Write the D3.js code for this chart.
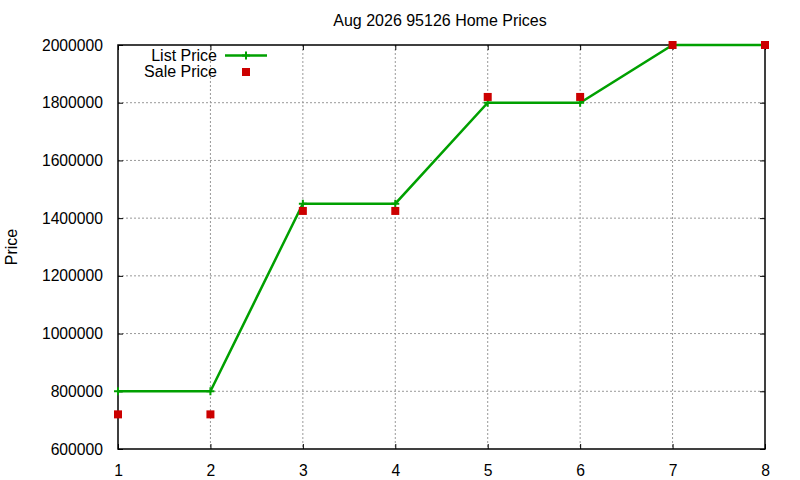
<!DOCTYPE html>
<html>
<head>
<meta charset="utf-8">
<style>
    body { margin: 0; background: #fff; }
    svg text { font-family: "Liberation Sans", Arial, sans-serif; fill: #000; }
</style>
</head>
<body>
<svg id="chart" width="800" height="480"></svg>

<script src="https://d3js.org/d3.v7.min.js"></script>
<script>
    // podaci sa slike
    const houses = [1, 2, 3, 4, 5, 6, 7, 8];
    const listPrice = [800000, 800000, 1450000, 1450000, 1800000, 1800000, 2000000, 2000000];
    const salePrice = [720000, 720000, 1425000, 1425000, 1820000, 1820000, 2000000, 2000000];
    const yTicks = [600000, 800000, 1000000, 1200000, 1400000, 1600000, 1800000, 2000000];
    const xTicks = [1, 2, 3, 4, 5, 6, 7, 8];
    const titleText = "Aug 2026 95126 Home Prices";

    const svg = d3.select("#chart");
    const margin = { top: 45, right: 35, bottom: 31, left: 118 },
          width = 800 - margin.left - margin.right,
          height = 480 - margin.top - margin.bottom;

    const chart = svg.append("g")
                     .attr("transform", `translate(${margin.left},${margin.top})`);

    const x = d3.scaleLinear().domain([1, 8]).range([0, width]);
    const y = d3.scaleLinear().domain([600000, 2000000]).range([height, 0]);

    // mreza (tockasta)
    chart.append("g").selectAll("line")
         .data(xTicks.filter(d => d > 1 && d < 8))
         .enter().append("line")
         .attr("x1", d => x(d)).attr("x2", d => x(d))
         .attr("y1", 0).attr("y2", height)
         .attr("stroke", "#999").attr("stroke-dasharray", "2,2");

    chart.append("g").selectAll("line")
         .data(yTicks.filter(d => d > 600000 && d < 2000000))
         .enter().append("line")
         .attr("x1", 0).attr("x2", width)
         .attr("y1", d => y(d)).attr("y2", d => y(d))
         .attr("stroke", "#999").attr("stroke-dasharray", "2,2");

    // osi s crticama prema unutra
    const styleAxis = g => {
        g.select(".domain").remove();
        g.selectAll("line").attr("stroke", "#000");
        g.selectAll("text").style("font-size", "15.7px");
    };

    chart.append("g")
         .attr("transform", `translate(0,${height})`)
         .call(d3.axisBottom(x).tickValues(xTicks).tickSize(-5).tickPadding(16).tickFormat(d3.format("d")))
         .call(styleAxis);

    chart.append("g")
         .call(d3.axisTop(x).tickValues(xTicks).tickSize(-5).tickFormat(""))
         .call(styleAxis);

    chart.append("g")
         .call(d3.axisLeft(y).tickValues(yTicks).tickSize(-5).tickPadding(15).tickFormat(d3.format("d")))
         .call(styleAxis);

    chart.append("g")
         .attr("transform", `translate(${width},0)`)
         .call(d3.axisRight(y).tickValues(yTicks).tickSize(-5).tickFormat(""))
         .call(styleAxis);

    // okvir
    chart.append("rect")
         .attr("width", width).attr("height", height)
         .attr("fill", "none").attr("stroke", "#000").attr("stroke-width", 1.5);

    // List Price linija
    const listData = houses.map((h, i) => ({ h: h, v: listPrice[i] }));
    const line = d3.line().x(d => x(d.h)).y(d => y(d.v));

    chart.append("path")
         .datum(listData)
         .attr("d", line)
         .attr("fill", "none")
         .attr("stroke", "#00a000")
         .attr("stroke-width", 2.5);

    chart.selectAll(".plus")
         .data(listData)
         .enter().append("path")
         .attr("class", "plus")
         .attr("d", d => `M${x(d.h) - 4},${y(d.v)}h8M${x(d.h)},${y(d.v) - 4}v8`)
         .attr("stroke", "#00a000").attr("stroke-width", 2);

    // Sale Price kvadratici
    const saleData = houses.map((h, i) => ({ h: h, v: salePrice[i] }));
    chart.selectAll(".sale")
         .data(saleData)
         .enter().append("rect")
         .attr("class", "sale")
         .attr("x", d => x(d.h) - 4).attr("y", d => y(d.v) - 4)
         .attr("width", 8).attr("height", 8)
         .attr("fill", "#cc0000");

    // legenda
    const legend = svg.append("g");
    legend.append("text").attr("x", 217).attr("y", 61).attr("text-anchor", "end")
          .style("font-size", "16px").text("List Price");
    legend.append("line").attr("x1", 225).attr("x2", 267).attr("y1", 55.5).attr("y2", 55.5)
          .attr("stroke", "#00a000").attr("stroke-width", 2.5);
    legend.append("path").attr("d", "M242,55.5h8M246,51.5v8")
          .attr("stroke", "#00a000").attr("stroke-width", 2);
    legend.append("text").attr("x", 217).attr("y", 77).attr("text-anchor", "end")
          .style("font-size", "16px").text("Sale Price");
    legend.append("rect").attr("x", 242).attr("y", 68).attr("width", 8).attr("height", 8)
          .attr("fill", "#cc0000");

    // naslov i oznaka osi
    svg.append("text").attr("x", 440).attr("y", 26).attr("text-anchor", "middle")
       .style("font-size", "16px").text(titleText);

    svg.append("text")
       .attr("transform", "translate(17,247) rotate(-90)")
       .attr("text-anchor", "middle")
       .style("font-size", "16px").text("Price");
</script>
</body>
</html>
